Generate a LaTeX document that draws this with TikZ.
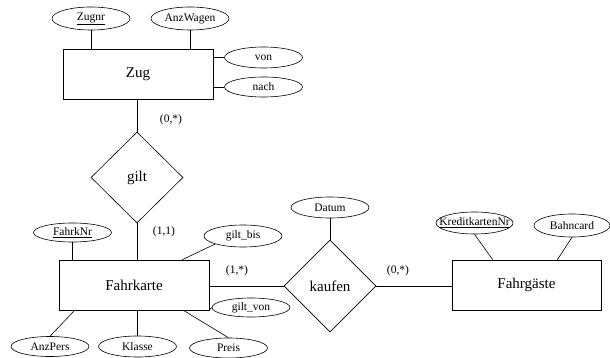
\documentclass[tikz,border=0pt]{standalone}
\usepackage{fontspec}
\setmainfont{Liberation Serif}
\usetikzlibrary{shapes.geometric}
\tikzset{
  entity/.style={draw, rectangle, minimum width=150pt, minimum height=50pt, inner sep=0pt, font=\fontsize{15}{17}\selectfont},
  rel/.style={draw, diamond, aspect=1, minimum width=92pt, minimum height=91pt, inner sep=0pt, font=\fontsize{15}{17}\selectfont},
  attr/.style={draw, ellipse, minimum width=78pt, minimum height=21pt, inner sep=0pt, font=\fontsize{11.5}{13}\selectfont},
  card/.style={inner sep=0pt, font=\fontsize{11.5}{13}\selectfont},
  every path/.style={line width=0.6pt}
}
\begin{document}
\begin{tikzpicture}[x=1pt,y=-1pt]
\useasboundingbox (0,0) rectangle (610,358);
% entities
\node[entity] (zug) at (138,74) {Zug};
\node[entity] (fk) at (134,285) {Fahrkarte};
\node[entity, minimum width=149pt] (fg) at (526.5,285) {Fahrgäste};
% relationships
\node[rel] (gilt) at (137,177.5) {gilt};
\node[rel, minimum height=92pt] (kaufen) at (330,286) {kaufen};
% attributes
\node[attr, minimum height=23pt] (zugnr) at (91,18.5) {\underline{Zugnr}};
\node[attr, minimum height=23pt] (anzw) at (190,18.5) {AnzWagen};
\node[attr] (von) at (263.5,57.5) {von};
\node[attr, minimum height=20pt] (nach) at (263.5,87) {nach};
\node[attr, minimum height=19pt] (fknr) at (72.5,232.5) {\underline{FahrkNr}};
\node[attr, minimum height=22pt] (gbis) at (243,236) {gilt\_bis};
\node[attr, minimum height=19pt] (gvon) at (251,307.5) {gilt\_von};
\node[attr, minimum height=20pt] (anzp) at (50,346.5) {AnzPers};
\node[attr] (klasse) at (137.5,346.5) {Klasse};
\node[attr, minimum height=20pt] (preis) at (228.5,348) {Preis};
\node[attr] (datum) at (330,207.5) {Datum};
\node[attr, minimum width=77pt, minimum height=22pt] (kk) at (474.5,223) {\makebox[0pt]{\underline{KreditkartenNr}}};
\node[attr, minimum width=76pt, minimum height=23pt] (bc) at (572,225.5) {Bahncard};
% cardinalities
\node[card] (c1) at (171,120) {(0,*)};
\node[card] (c2) at (164,232) {(1,1)};
\node[card] (c3) at (237,271) {(1,*)};
\node[card] (c4) at (398,271) {(0,*)};
% connectors
\draw (zugnr.south) -- (zugnr.south |- zug.north);
\draw (anzw.south) -- (anzw.south |- zug.north);
\draw (zug.east |- von.west) -- (von.west);
\draw (zug.east |- nach.west) -- (nach.west);
\draw (zug.south -| gilt.north) -- (gilt.north);
\draw (gilt.south) -- (gilt.south |- fk.north);
\draw (fknr.south) -- (fknr.south |- fk.north);
\draw ([xshift=-27pt]fk.north east) -- (gbis.south west);
\draw (fk.south east) -- (gvon.west);
\draw ([xshift=16pt]fk.south west) -- (anzp.north);
\draw (klasse.north |- fk.south) -- (klasse.north);
\draw ([xshift=-26pt]fk.south east) -- (preis.north);
\draw (fk.east |- kaufen.west) -- (kaufen.west);
\draw (datum.south) -- (kaufen.north);
\draw (kaufen.east) -- (fg.west |- kaufen.east);
\draw (kk.south) -- ([xshift=41pt]fg.north west);
\draw (bc.south) -- ([xshift=-44pt]fg.north east);
\end{tikzpicture}
\end{document}
